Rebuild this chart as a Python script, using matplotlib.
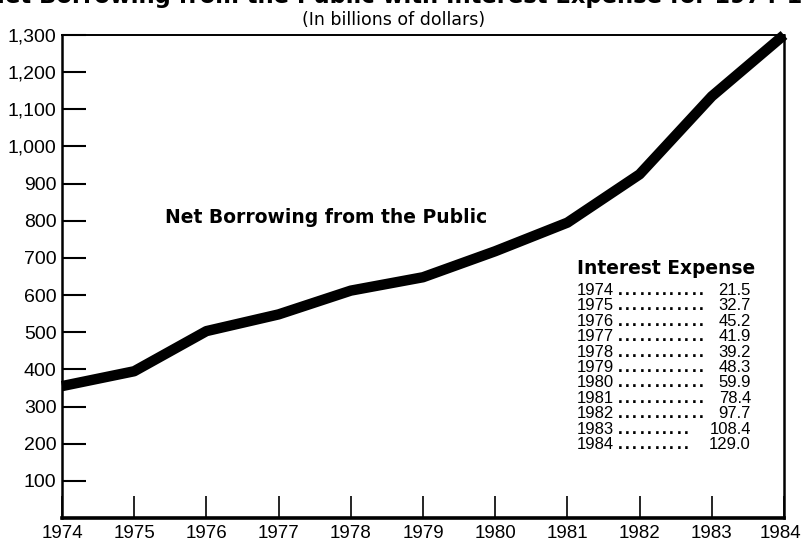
import numpy as np
import matplotlib.pyplot as plt
from matplotlib.transforms import ScaledTranslation

# net borrowing from the public, billions of dollars
years = [1974, 1975, 1976, 1977, 1978, 1979, 1980, 1981, 1982, 1983, 1984]
net_borrowing = [355, 395, 503, 548, 612, 648, 718, 795, 925, 1135, 1300]

# interest expense table
interest_years = ["1974", "1975", "1976", "1977", "1978", "1979",
                  "1980", "1981", "1982", "1983", "1984"]
interest_vals = ["21.5", "32.7", "45.2", "41.9", "39.2", "48.3",
                 "59.9", "78.4", "97.7", "108.4", "129.0"]

y_ticks = list(range(100, 1400, 100))

plt.rcParams['font.family'] = ['Liberation Sans', 'DejaVu Sans']

W, H = 804, 542
ax_l, ax_b, ax_w, ax_h = 62, 24, 722, 483
fig = plt.figure(figsize=(W/100, H/100), dpi=100)
ax = fig.add_axes([ax_l/W, ax_b/H, ax_w/W, ax_h/H])

ax.plot(years, net_borrowing, color='black', lw=7.5, solid_capstyle='butt',
        solid_joinstyle='round', clip_on=False)

ax.set_xlim(1974, 1984)
ax.set_ylim(0, 1300)
ax.set_xticks(years)
ax.set_xticklabels([str(y) for y in years], fontsize=13.5)
ax.set_yticks(y_ticks)
ax.set_yticklabels([f"{v:,}" for v in y_ticks], fontsize=14)
ax.tick_params(axis='x', direction='in', length=16, width=1.2, pad=5)
ax.tick_params(axis='y', direction='in', length=17, width=1.5, pad=4)

# last year label sits a little left so it stays on the page
last = ax.get_xticklabels()[-1]
last.set_transform(last.get_transform() + ScaledTranslation(-4/100, 0, fig.dpi_scale_trans))

for side, w in [('left', 1.8), ('right', 1.8), ('top', 1.4), ('bottom', 2.6)]:
    ax.spines[side].set_linewidth(w)

ax.text(1977.66, 809, "Net Borrowing from the Public", fontsize=13.5,
        fontweight='bold', family='DejaVu Sans', ha='center', va='center')


def px_x(x):
    # pixel column -> axes fraction
    return (x - ax_l) / ax_w


def px_y(y):
    # pixel row from top -> axes fraction
    return (H - ax_b - y) / ax_h


# interest expense table
ax.text(px_x(577), px_y(269), "Interest Expense", transform=ax.transAxes,
        fontsize=13.4, fontweight='bold', family='DejaVu Sans',
        ha='left', va='center')
for i, (yr, val) in enumerate(zip(interest_years, interest_vals)):
    base = 295 + i * 15.4
    ax.text(px_x(577), px_y(base), yr, transform=ax.transAxes, fontsize=12,
            ha='left', va='baseline')
    ax.text(px_x(751), px_y(base), val, transform=ax.transAxes, fontsize=12,
            ha='right', va='baseline')
    ndots = 12 if len(val) == 4 else 10
    for k in range(ndots):
        ax.text(px_x(620 + k * 7.4), px_y(base), ".", transform=ax.transAxes,
                fontsize=12.5, fontweight='bold', ha='center', va='baseline')

fig.text(0.52, 1 - 3/H, "Net Borrowing from the Public with Interest Expense for 1974-1984",
         fontsize=16.3, fontweight='bold', family='DejaVu Sans',
         ha='center', va='baseline')
fig.text(0.49, 1 - 20/H, "(In billions of dollars)", fontsize=12.5,
         family='DejaVu Sans', ha='center', va='center')

fig.savefig("out.png", dpi=100)
